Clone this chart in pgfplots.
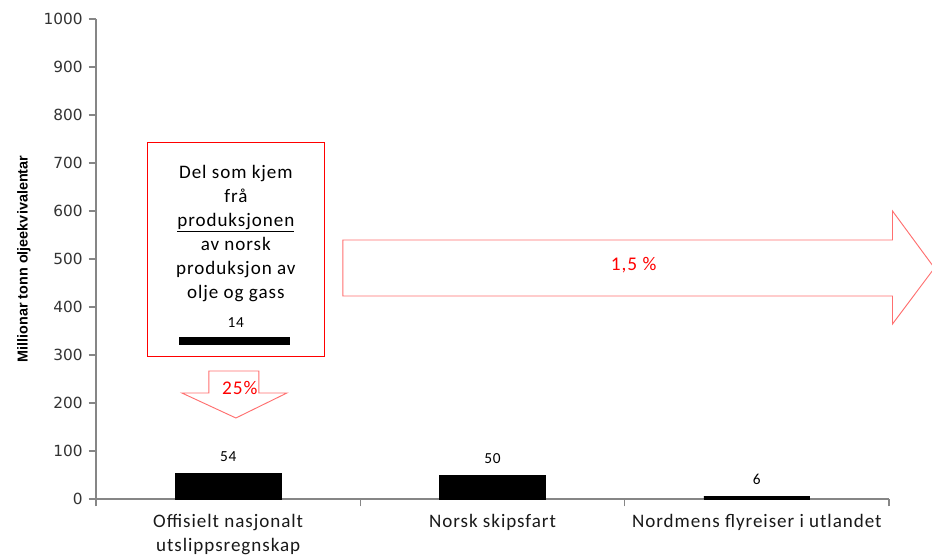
\documentclass[border=0pt]{standalone}
\usepackage{pgfplots}
\pgfplotsset{compat=1.18}
\usepackage{fontspec}
\setmainfont{Carlito}[LetterSpace=5]
\newfontfamily\dejavu{DejaVu Sans}
\newfontfamily\arialf{Liberation Sans}
\definecolor{axgray}{HTML}{868686}
\definecolor{arrowred}{HTML}{FF6F6F}
\definecolor{txtred}{HTML}{FF0000}

\begin{document}
\begin{tikzpicture}
\begin{axis}[
    name=ax,
    scale only axis,
    width=594.75pt, height=360pt,
    xmin=-0.5, xmax=2.5,
    ymin=0, ymax=1000,
    ytick distance=100,
    axis lines=left,
    axis line style={-, axgray, line width=0.8pt},
    tick style={axgray, line width=0.8pt},
    tick align=outside,
    major tick length=5.5pt,
    xtick={-0.5,0.5,1.5,2.5},
    xticklabels={},
    extra x ticks={0,1,2},
    extra x tick labels={Offisielt nasjonalt\\utslippsregnskap, Norsk skipsfart, Nordmens flyreiser i utlandet},
    extra x tick style={major tick length=0pt,
        xticklabel style={align=center, font=\fontsize{14.3}{18}\selectfont, text=black!90, yshift=-8pt}},
    yticklabel style={font=\dejavu\fontsize{11.5}{13}\selectfont, text=black!80, xshift=-1pt},
    /pgf/number format/assume math mode=true,
    /pgf/number format/1000 sep={},
    ylabel={Millionar tonn oljeekvivalentar},
    every axis y label/.style={at={(axis description cs:0,0.5)}, rotate=90, anchor=center,
        yshift=54pt, font=\arialf\bfseries\fontsize{10.8}{12}\selectfont},
    ybar, bar width=0.4,
    nodes near coords,
    nodes near coords style={font=\fontsize{11.5}{13}\selectfont, text=black, yshift=5pt},
    clip=false,
]
\addplot[fill=black, draw=black] coordinates {(0,54) (1,50) (2,6)};

% boks med tekst
\draw[txtred, line width=0.7pt, fill=white] (axis cs:-0.307,296) rectangle (axis cs:0.366,742);
\node[anchor=north, align=center, inner sep=0pt, font=\fontsize{14.3}{18}\selectfont]
    at (axis cs:0.029,696) {Del som kjem\\frå\\\underline{produksjonen}\\av norsk\\produksjon av\\olje og gass};
\fill[black] (axis cs:-0.186,321) rectangle (axis cs:0.233,337.5);
\node[font=\fontsize{11.5}{13}\selectfont] at (axis cs:0.029,368) {14};

% pil ned
\draw[arrowred, line width=0.7pt, fill=white]
    (axis cs:-0.0728,266.7) -- (axis cs:0.1163,266.7) -- (axis cs:0.1163,220.8)
    -- (axis cs:0.2221,220.8) -- (axis cs:0.0293,168.75) -- (axis cs:-0.1749,220.8)
    -- (axis cs:-0.0728,220.8) -- cycle;
\node[txtred, font=\fontsize{14.5}{16}\selectfont] at (axis cs:0.044,231) {25\%};

% pil høgre
\draw[arrowred, line width=0.7pt, fill=white]
    (axis cs:0.4338,539.6) -- (axis cs:2.5132,539.6) -- (axis cs:2.5132,600)
    -- (axis cs:2.672,481.25) -- (axis cs:2.5132,364.6) -- (axis cs:2.5132,422.9)
    -- (axis cs:0.4338,422.9) -- cycle;
\node[txtred, font=\fontsize{14.5}{16}\selectfont] at (axis cs:1.534,487.5) {1,5 \%};
\end{axis}
\pgfresetboundingbox
\path[use as bounding box] ([shift={(-72pt,-43.5pt)}]ax.south west) rectangle ([shift={(627pt,374.25pt)}]ax.south west);
\end{tikzpicture}
\end{document}
